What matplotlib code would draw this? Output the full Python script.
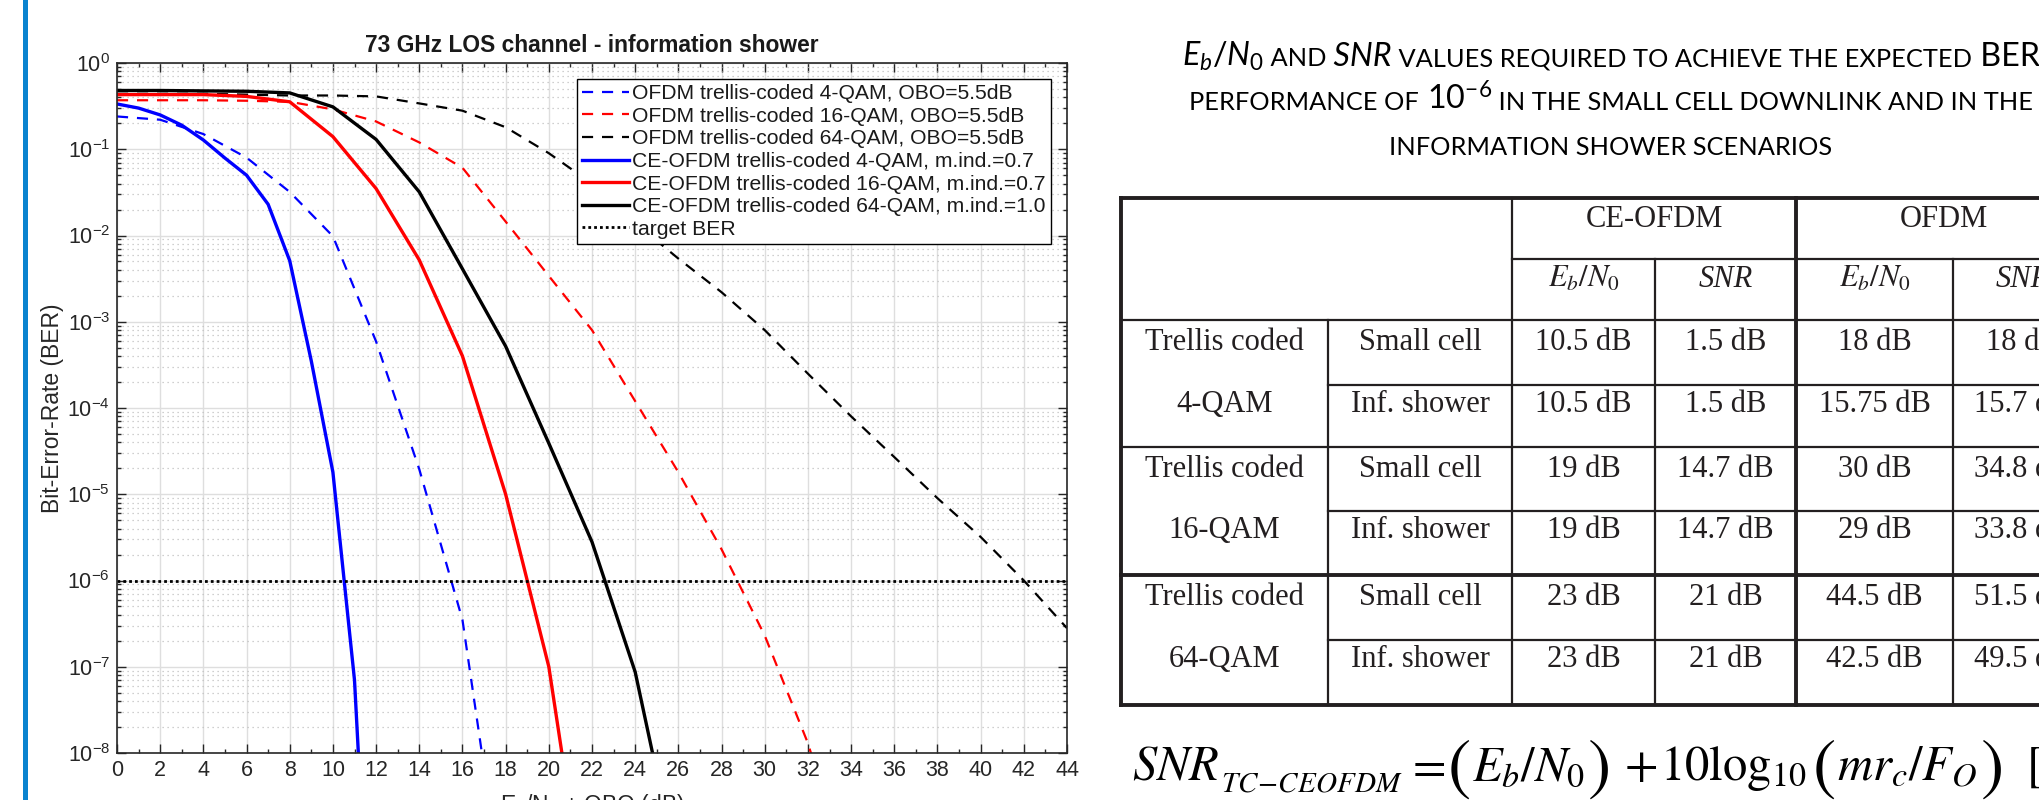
import matplotlib
matplotlib.use("Agg")
import matplotlib.pyplot as plt
from matplotlib.ticker import LogLocator, MultipleLocator, NullFormatter
from matplotlib.patches import Rectangle

plt.rcParams['font.family'] = ['Liberation Sans', 'DejaVu Sans']
plt.rcParams['mathtext.it'] = 'Lato:italic'
plt.rcParams['mathtext.rm'] = 'Lato'
plt.rcParams['mathtext.bf'] = 'Lato:bold'
plt.rcParams['mathtext.sf'] = 'Lato'

W, H = 2039, 800

# ---- BER curves (x = Eb/N0 + OBO in dB) ----
snr_ofdm4 = [0, 2, 4, 6, 8, 10, 12, 14, 16, 18]
ber_ofdm4 = [0.24, 0.22, 0.15, 0.08, 0.032, 9.8e-3, 5.9e-4, 1.95e-5, 3.5e-7, 1.3e-10]

snr_ofdm16 = list(range(0, 35, 2))
ber_ofdm16 = [0.37, 0.37, 0.37, 0.365, 0.355, 0.29, 0.21, 0.12, 0.061, 0.0145,
              3.4e-3, 8e-4, 1.2e-4, 1.8e-5, 2.3e-6, 2.3e-7, 1.3e-8, 3e-10]

snr_ofdm64 = list(range(0, 45, 2))
ber_ofdm64 = [0.44, 0.44, 0.44, 0.43, 0.42, 0.42, 0.41, 0.34, 0.28, 0.18, 0.09,
              0.04, 0.014, 5.4e-3, 2.2e-3, 8e-4, 2.5e-4, 8e-5, 2.7e-5, 9e-6,
              3.2e-6, 1e-6, 2.8e-7]

snr_ce4 = [0, 1, 2, 3, 4, 5, 6, 7, 8, 9, 10, 11, 12]
ber_ce4 = [0.335, 0.30, 0.25, 0.19, 0.128, 0.079, 0.05, 0.023, 5.1e-3, 3.5e-4,
           1.8e-5, 7e-8, 1.3e-12]

snr_ce16 = list(range(0, 23, 2))
ber_ce16 = [0.43, 0.43, 0.43, 0.41, 0.355, 0.14, 0.035, 5.2e-3, 4.0e-4, 1.0e-5,
            1.0e-7, 5e-11]

snr_ce64 = list(range(0, 27, 2))
ber_ce64 = [0.48, 0.48, 0.475, 0.47, 0.45, 0.31, 0.13, 0.032, 4.1e-3, 5.2e-4,
            3.9e-5, 2.8e-6, 8.7e-8, 4e-10]

target_ber = 1e-6

labels = ["OFDM trellis-coded 4-QAM, OBO=5.5dB",
          "OFDM trellis-coded 16-QAM, OBO=5.5dB",
          "OFDM trellis-coded 64-QAM, OBO=5.5dB",
          "CE-OFDM trellis-coded 4-QAM, m.ind.=0.7",
          "CE-OFDM trellis-coded 16-QAM, m.ind.=0.7",
          "CE-OFDM trellis-coded 64-QAM, m.ind.=1.0",
          "target BER"]

# ---- table contents ----
group_top = ["Trellis coded", "Trellis coded", "Trellis coded"]
group_bottom = ["4-QAM", "16-QAM", "64-QAM"]
scenarios = ["Small cell", "Inf. shower"]
ce_ebn0 = ["10.5 dB", "10.5 dB", "19 dB", "19 dB", "23 dB", "23 dB"]
ce_snr = ["1.5 dB", "1.5 dB", "14.7 dB", "14.7 dB", "21 dB", "21 dB"]
ofdm_ebn0 = ["18 dB", "15.75 dB", "30 dB", "29 dB", "44.5 dB", "42.5 dB"]
ofdm_snr = ["18 dB", "15.7 dB", "34.8 dB", "33.8 dB", "51.5 dB", "49.5 dB"]

fig = plt.figure(figsize=(W / 100, H / 100), dpi=100)

# background layer in pixel coordinates for slide decorations
bg = fig.add_axes([0, 0, 1, 1])
bg.set_xlim(0, W)
bg.set_ylim(H, 0)
bg.axis('off')
bg.add_patch(Rectangle((23, 0), 5, H, color='#0a83cf', lw=0))

# ---- chart ----
ax = fig.add_axes([117 / W, 1 - 753 / H, 950 / W, 690 / H])
dash = (0, (5, 4))
ax.plot(snr_ofdm4, ber_ofdm4, color='b', lw=1.6, ls=dash, label=labels[0])
ax.plot(snr_ofdm16, ber_ofdm16, color='r', lw=1.6, ls=dash, label=labels[1])
ax.plot(snr_ofdm64, ber_ofdm64, color='k', lw=1.6, ls=dash, label=labels[2])
ax.plot(snr_ce4, ber_ce4, color='b', lw=2.4, label=labels[3])
ax.plot(snr_ce16, ber_ce16, color='r', lw=2.4, label=labels[4])
ax.plot(snr_ce64, ber_ce64, color='k', lw=2.4, label=labels[5])
ax.axhline(target_ber, color='k', lw=2.0, ls=(0, (1, 1.1)), label=labels[6])

ax.set_yscale('log')
ax.set_xlim(0, 44)
ax.set_ylim(1e-8, 1)
ax.set_xticks(range(0, 45, 2))
ax.xaxis.set_minor_locator(MultipleLocator(1))
ax.yaxis.set_major_locator(LogLocator(base=10, numticks=20))
ax.yaxis.set_minor_locator(LogLocator(base=10, subs=range(2, 10), numticks=20))
ax.yaxis.set_minor_formatter(NullFormatter())

gc = '#262626'
ax.tick_params(which='both', direction='in', top=True, right=True,
               colors=gc, labelsize=15.5, width=1.0)
ax.tick_params(which='major', length=6.5)
ax.tick_params(which='minor', length=3.2)
ax.tick_params(axis='x', pad=5)
ax.tick_params(axis='y', pad=5)
for s in ax.spines.values():
    s.set_color(gc)
    s.set_linewidth(1.2)

ax.grid(which='major', color='#dedede', lw=1.0, ls='-')
ax.yaxis.grid(which='minor', color='#c0c0c0', lw=0.9, ls=(0, (1, 3)))
ax.set_axisbelow(True)

ax.set_title("73 GHz LOS channel - information shower", fontsize=16.4,
             fontweight='bold', color='#1a1a1a', pad=8)
ax.set_ylabel("Bit-Error-Rate (BER)", fontsize=16.5, color=gc, labelpad=2)
ax.set_xlabel(r"$\mathregular{E_b/N_0}$ + OBO (dB)", fontsize=16.5, color=gc,
              labelpad=8)

leg = ax.legend(loc='upper right', bbox_to_anchor=(0.983, 0.977),
                borderaxespad=0, fontsize=15.2, fancybox=False,
                edgecolor='black', framealpha=1, handlelength=2.2,
                handletextpad=0.15, labelspacing=0.17, borderpad=0.25)
leg.get_frame().set_linewidth(1.0)
for t in leg.get_texts():
    t.set_color('#1a1a1a')

renderer = fig.canvas.get_renderer()


def seq_text(parts, x0, base, center=False, **common):
    # lay text pieces of different sizes side by side on one baseline
    arts = []
    for txt, size, dy, style in parts:
        kw = dict(common)
        kw.update(fontsize=size, va='baseline', ha='left')
        if style:
            kw['style'] = style
        arts.append(bg.text(0, base + dy, txt, **kw))
    widths = [a.get_window_extent(renderer).width for a in arts]
    x = x0 - sum(widths) / 2 if center else x0
    for a, w in zip(arts, widths):
        a.set_x(x)
        x += w


# ---- slide heading (small caps style, centred) ----
hkw = dict(family='Lato', color='black', math_fontfamily='custom')
small, big = 18.3, 23.2
seq_text([(r"$E_b/N_0$", big, 0, None), (" AND", small, 0, None),
          (" SNR", big, 0, 'italic'),
          (" VALUES REQUIRED TO ACHIEVE THE EXPECTED", small, 0, None),
          (" BER", big, 0, None)], 1611, 66, center=True, **hkw)
seq_text([("PERFORMANCE OF", small, 0, None),
          (r" $\mathregular{10^{-6}}$", big, 0, None),
          (" IN THE SMALL CELL DOWNLINK AND IN THE", small, 0, None)],
         1611, 110, center=True, **hkw)
seq_text([("INFORMATION SHOWER SCENARIOS", small, 0, None)], 1611, 155,
         center=True, **hkw)

# ---- table ----
TC = '#231f20'
thin, thick = 1.6, 2.8
cols = [1121, 1328, 1512, 1655, 1796, 1953, 2092]
rows = [198, 259, 320, 385, 447, 511, 575, 640, 705]


def hl(y, x0, x1, lw):
    bg.plot([x0, x1], [y, y], color=TC, lw=lw, solid_capstyle='projecting')


def vl(x, y0, y1, lw):
    bg.plot([x, x], [y0, y1], color=TC, lw=lw, solid_capstyle='projecting')


hl(rows[0], cols[0], cols[6], thick)
hl(rows[1], cols[2], cols[6], thin)
hl(rows[2], cols[0], cols[6], thin)
hl(rows[3], cols[1], cols[6], thin)
hl(rows[4], cols[0], cols[6], thin)
hl(rows[5], cols[1], cols[6], thin)
hl(rows[6], cols[0], cols[6], thick)
hl(rows[7], cols[1], cols[6], thin)
hl(rows[8], cols[0], cols[6], thick)
vl(cols[0], rows[0], rows[8], thick)
vl(cols[1], rows[2], rows[8], thin)
vl(cols[2], rows[0], rows[8], thin)
vl(cols[3], rows[1], rows[8], thin)
vl(cols[4], rows[0], rows[8], thick)
vl(cols[5], rows[1], rows[8], thin)
vl(cols[6], rows[0], rows[8], thick)

tkw = dict(fontsize=22, family='Liberation Serif', color=TC, ha='center',
           va='baseline', math_fontfamily='stix')
centers = [(cols[i] + cols[i + 1]) / 2 for i in range(6)]
bg.text((cols[2] + cols[4]) / 2, rows[0] + 29, "CE-OFDM", **tkw)
bg.text((cols[4] + cols[6]) / 2, rows[0] + 29, "OFDM", **tkw)
for c in (2, 4):
    bg.text(centers[c], rows[1] + 28, r"$E_b/N_0$", **tkw)
    bg.text(centers[c + 1], rows[1] + 28, "SNR", style='italic', **tkw)

for g in range(3):
    top = rows[2 + 2 * g]
    bot = rows[3 + 2 * g]
    bg.text(centers[0], top + 30, group_top[g], **tkw)
    bg.text(centers[0], bot + 27, group_bottom[g], **tkw)
    for r in range(2):
        i = 2 * g + r
        y = rows[2 + i] + (30 if r == 0 else 27)
        bg.text(centers[1], y, scenarios[r], **tkw)
        bg.text(centers[2], y, ce_ebn0[i], **tkw)
        bg.text(centers[3], y, ce_snr[i], **tkw)
        bg.text(centers[4], y, ofdm_ebn0[i], **tkw)
        bg.text(centers[5], y, ofdm_snr[i], **tkw)

# ---- formula: pieces near where they sit on the slide, never overlapping ----
fkw = dict(family='Liberation Serif', color='black', math_fontfamily='stix',
           va='baseline', ha='left')
fs, ps, base = 35, 50, 780
formula = [(1132, r"$SNR$", fs, 0), (1220, r"$TC\!-\!CEOFDM$", 21, 11),
           (1404, r"$=$", fs, 0), (1441, r"$($", ps, 7),
           (1463, r"$E_b/N_0$", fs, 0), (1586, r"$)$", ps, 7),
           (1624, r"$+$", fs, 0), (1660, r"$10\log_{10}$", fs, 0),
           (1812, r"$($", ps, 7), (1835, r"$mr_c/F_O$", fs, 0),
           (1973, r"$)$", ps, 7), (2026, r"$[$", fs, 0)]
prev_end = 0
for x, txt, size, dy in formula:
    t = bg.text(x, base + dy, txt, fontsize=size, **fkw)
    bb = t.get_window_extent(renderer)
    shift = max(0, prev_end + 2 - bb.x0)
    t.set_x(x + shift)
    prev_end = bb.x1 + shift

fig.savefig('out.png', dpi=100)
